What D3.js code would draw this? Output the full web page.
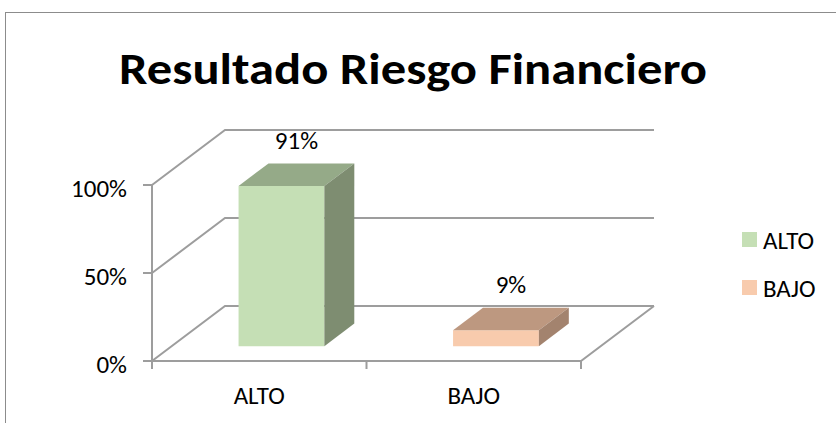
<!DOCTYPE html>
<html>
<head>
<meta charset="utf-8">
<script src="https://cdn.jsdelivr.net/npm/d3@7"></script>
<style>
  body { margin: 0; background: #fff; }
  svg { display: block; }
</style>
</head>
<body>
<svg id="chart" width="836" height="423"></svg>
<script>
// chart data
const categories = ["ALTO", "BAJO"];
const values = [0.91, 0.09];
const valueLabels = ["91%", "9%"];
const yTicks = [0, 0.5, 1];
const yTickLabels = ["0%", "50%", "100%"];
const title = "Resultado Riesgo Financiero";

const frontColors = ["#c5dfb5", "#f8cbad"];
const topColors = ["#95aa88", "#bd9880"];
const sideColors = ["#7e8d71", "#a3836e"];

const font = "Carlito, Lato, 'Open Sans', sans-serif";
const gridColor = "#9d9d9d";
const labelSize = 25;

const svg = d3.select("#chart");

// front plane of the 3d box
const x = d3.scaleBand().domain(categories).range([152, 581]);
const y = d3.scaleLinear().domain([0, 1]).range([361, 185]);
// depth offset of the back wall
const depth = {dx: 73, dy: -55};
function pt(px, py, f) { return [px + f * depth.dx, py + f * depth.dy]; }

// chart border
svg.append("rect")
  .attr("x", 5.5).attr("y", 12.5)
  .attr("width", 900).attr("height", 500)
  .attr("fill", "none")
  .attr("stroke", "#8c8c8c")
  .attr("stroke-width", 1);

// title
svg.append("text")
  .attr("x", 413)
  .attr("y", 84)
  .attr("text-anchor", "middle")
  .attr("font-family", font)
  .attr("font-weight", 700)
  .attr("font-size", 45)
  .attr("textLength", 588)
  .attr("lengthAdjust", "spacingAndGlyphs")
  .attr("fill", "#000")
  .text(title);

const line = d3.line();
const x0 = x.range()[0], x1 = x.range()[1];

// back wall + side wall gridlines
yTicks.forEach(function(t) {
  svg.append("path")
    .attr("d", line([[x0, y(t)], pt(x0, y(t), 1), pt(x1, y(t), 1)]))
    .attr("fill", "none")
    .attr("stroke", gridColor)
    .attr("stroke-width", 2);
});

// floor right edge and front edge
svg.append("path")
  .attr("d", line([[x0, y(0)], [x1, y(0)], pt(x1, y(0), 1)]))
  .attr("fill", "none")
  .attr("stroke", gridColor)
  .attr("stroke-width", 2);

// y axis line + ticks
svg.append("line")
  .attr("x1", x0).attr("x2", x0)
  .attr("y1", y(1)).attr("y2", y(0))
  .attr("stroke", gridColor).attr("stroke-width", 2);

svg.selectAll(".ytick")
  .data(yTicks)
  .enter()
  .append("line")
    .attr("x1", x0 - 9).attr("x2", x0)
    .attr("y1", function(d) { return y(d); })
    .attr("y2", function(d) { return y(d); })
    .attr("stroke", gridColor).attr("stroke-width", 2);

svg.selectAll(".ylabel")
  .data(yTicks)
  .enter()
  .append("text")
    .attr("x", 127)
    .attr("y", function(d) { return y(d) + 3; })
    .attr("dy", "0.35em")
    .attr("text-anchor", "end")
    .attr("font-family", font)
    .attr("font-size", labelSize)
    .attr("fill", "#000")
    .text(function(d, i) { return yTickLabels[i]; });

// x axis ticks at category boundaries
const xBounds = categories.map(function(c) { return x(c); }).concat([x1]);
svg.selectAll(".xtick")
  .data(xBounds)
  .enter()
  .append("line")
    .attr("x1", function(d) { return d; })
    .attr("x2", function(d) { return d; })
    .attr("y1", y(0)).attr("y2", y(0) + 8)
    .attr("stroke", gridColor).attr("stroke-width", 2);

svg.selectAll(".xlabel")
  .data(categories)
  .enter()
  .append("text")
    .attr("x", function(d) { return x(d) + x.bandwidth() / 2; })
    .attr("y", 404)
    .attr("text-anchor", "middle")
    .attr("font-family", font)
    .attr("font-size", labelSize)
    .attr("fill", "#000")
    .text(function(d) { return d; });

// 3d bars
const barW = 0.4;      // share of the category band
const f0 = 0.27, f1 = 0.68;   // front and back depth of bars

categories.forEach(function(c, i) {
  const left = x(c) + x.bandwidth() * (1 - barW) / 2 + 2.5;
  const right = left + x.bandwidth() * barW;
  const top = y(values[i]);
  const bottom = y(0);

  const g = svg.append("g");
  // front
  g.append("path")
    .attr("d", line([pt(left, bottom, f0), pt(left, top, f0), pt(right, top, f0), pt(right, bottom, f0)]) + "Z")
    .attr("fill", frontColors[i]);
  // top
  g.append("path")
    .attr("d", line([pt(left, top, f0), pt(left, top, f1), pt(right, top, f1), pt(right, top, f0)]) + "Z")
    .attr("fill", topColors[i]);
  // side
  g.append("path")
    .attr("d", line([pt(right, bottom, f0), pt(right, top, f0), pt(right, top, f1), pt(right, bottom, f1)]) + "Z")
    .attr("fill", sideColors[i]);

  // value label above the middle of the bar
  const mid = pt((left + right) / 2, top, (f0 + f1) / 2);
  svg.append("text")
    .attr("x", mid[0])
    .attr("y", mid[1] - 26)
    .attr("text-anchor", "middle")
    .attr("font-family", font)
    .attr("font-size", labelSize)
    .attr("fill", "#000")
    .text(valueLabels[i]);
});

// legend
const legend = svg.append("g");
categories.forEach(function(c, i) {
  legend.append("rect")
    .attr("x", 742)
    .attr("y", 232 + i * 48)
    .attr("width", 15)
    .attr("height", 15)
    .attr("fill", frontColors[i]);
  legend.append("text")
    .attr("x", 763)
    .attr("y", 240 + i * 48)
    .attr("dy", "0.35em")
    .attr("font-family", font)
    .attr("font-size", labelSize)
    .attr("fill", "#000")
    .text(c);
});
</script>
</body>
</html>
